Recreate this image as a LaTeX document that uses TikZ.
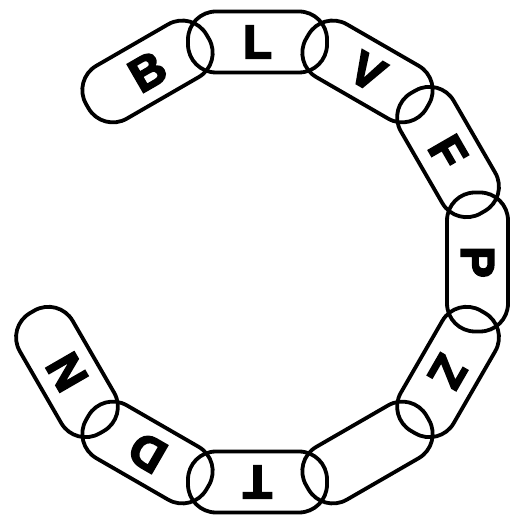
\documentclass[tikz,border=0pt]{standalone}
\usepackage{fontspec}
\setmainfont{Liberation Sans}
\newfontfamily\heavyfont{Liberation Sans Bold}[FakeBold=4]
\begin{document}
\begin{tikzpicture}[x=1pt,y=1pt,
  chainlink/.style={rectangle, draw=black, line width=3.8pt, rounded corners=28pt,
    minimum width=139pt, minimum height=61pt, inner sep=0pt},
  letter/.style={font=\fontsize{47}{47}\selectfont\heavyfont, inner sep=0pt, text=black}]
\useasboundingbox (0,0) rectangle (510,518);
\begin{scope}[shift={(257.5,256)}]
  \foreach \ang/\nm in {120/b, 90/l, 60/v, 30/f, 0/p, -30/z, -60/e, -90/t, -120/d, -150/n}{
    \node[chainlink, rotate=\ang-90] (link\nm) at (\ang:220) {};
  }
  \foreach \ang/\nm/\txt in {120/b/B, 90/l/L, 60/v/V, 30/f/F, 0/p/P, -30/z/Z, -90/t/T, -120/d/D, -150/n/N}{
    \node[letter, rotate=\ang-90] (let\nm) at (link\nm.center) {\txt};
  }
\end{scope}
\end{tikzpicture}
\end{document}
